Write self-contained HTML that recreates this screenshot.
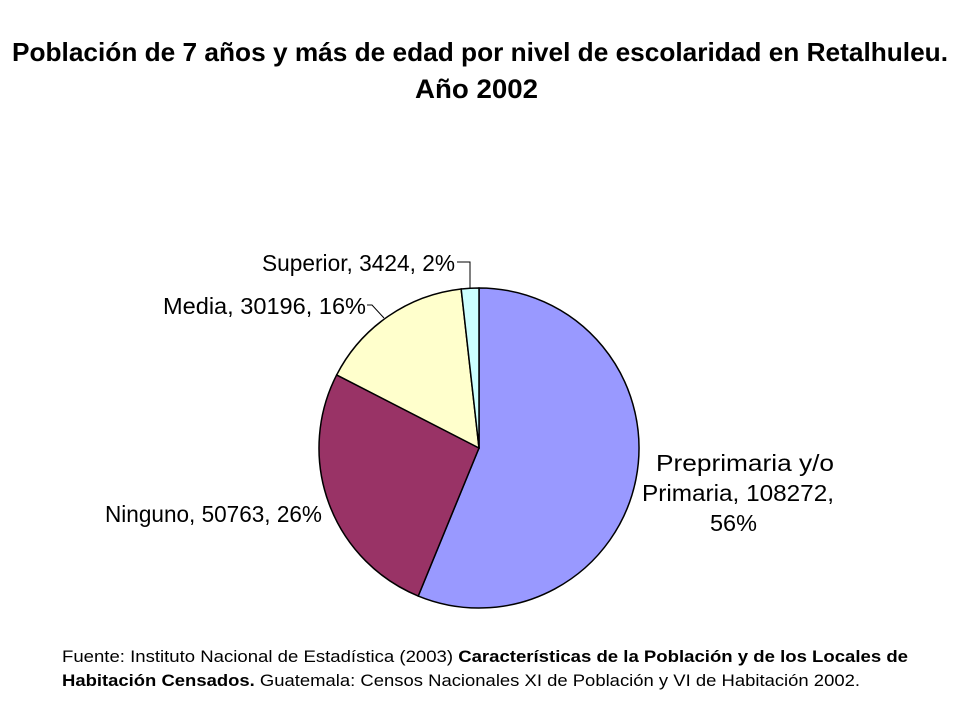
<!DOCTYPE html>
<html><head><meta charset="utf-8"><style>
body{margin:0;background:#fff;}
svg{display:block;font-family:"Liberation Sans",Arial,sans-serif;}
</style></head><body>
<svg width="960" height="720" id="c">
<text x="12" y="61" font-size="26" font-weight="bold" textLength="936" lengthAdjust="spacingAndGlyphs">Población de 7 años y más de edad por nivel de escolaridad en Retalhuleu.</text>
<text x="415" y="98" font-size="27" font-weight="bold" textLength="123" lengthAdjust="spacingAndGlyphs">Año 2002</text>
<g id="slices"></g>
<g font-size="23" fill="#000">
<text x="262" y="271" textLength="193" lengthAdjust="spacingAndGlyphs">Superior, 3424, 2%</text>
<path d="M457,262 H470 V288" fill="none" stroke="#000" stroke-width="1"/>
<text x="163" y="314" textLength="203" lengthAdjust="spacingAndGlyphs">Media, 30196, 16%</text>
<path d="M367,305 H372 L384,318" fill="none" stroke="#000" stroke-width="1"/>
<text x="105" y="522" textLength="217" lengthAdjust="spacingAndGlyphs">Ninguno, 50763, 26%</text>
<text x="656" y="471" textLength="178" lengthAdjust="spacingAndGlyphs">Preprimaria y/o</text>
<text x="642" y="501" textLength="192" lengthAdjust="spacingAndGlyphs">Primaria, 108272,</text>
<text x="710" y="531" textLength="47" lengthAdjust="spacingAndGlyphs">56%</text>
</g>
<g font-size="17">
<text x="62" y="662" textLength="846" lengthAdjust="spacingAndGlyphs">Fuente: Instituto Nacional de Estadística (2003) <tspan font-weight="bold">Características de la Población y de los Locales de</tspan></text>
<text x="62" y="686" textLength="798" lengthAdjust="spacingAndGlyphs"><tspan font-weight="bold">Habitación Censados.</tspan> Guatemala: Censos Nacionales XI de Población y VI de Habitación 2002.</text>
</g>
</svg>
<script>
const categories=["Preprimaria y/o Primaria","Ninguno","Media","Superior"];
const values=[108272,50763,30196,3424];
const colors=["#9999FF","#993366","#FFFFCC","#CCFFFF"];
const cx=479,cy=448,r=160;
const g=document.getElementById('slices');
const total=values.reduce((a,b)=>a+b,0);
let a0=0;
values.forEach((v,i)=>{
  const a1=a0+v/total*2*Math.PI;
  const x0=cx+r*Math.sin(a0),y0=cy-r*Math.cos(a0);
  const x1=cx+r*Math.sin(a1),y1=cy-r*Math.cos(a1);
  const large=(a1-a0)>Math.PI?1:0;
  const p=document.createElementNS('http://www.w3.org/2000/svg','path');
  p.setAttribute('d',`M${cx},${cy} L${x0},${y0} A${r},${r} 0 ${large} 1 ${x1},${y1} Z`);
  p.setAttribute('fill',colors[i]);
  p.setAttribute('stroke','#000');
  p.setAttribute('stroke-width','1.5');
  
  
  g.appendChild(p);
  a0=a1;
});
</script>
</body></html>
